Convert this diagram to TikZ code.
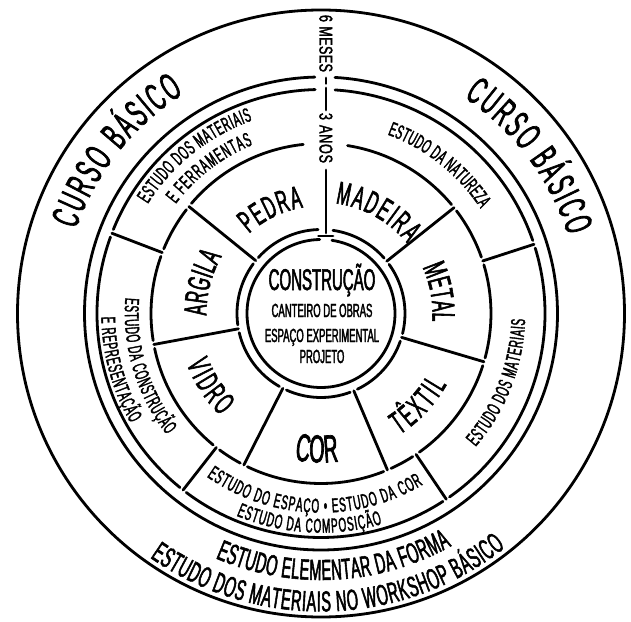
\documentclass[tikz,border=0pt]{standalone}
\usepackage{fontspec}
\setmainfont{Liberation Sans}[FakeStretch=0.5,FakeBold=1.8]
\newfontfamily\wfont{Liberation Sans}[FakeStretch=0.68,FakeBold=1.8]
\usetikzlibrary{decorations.text}
\newcommand\arctext[5]{%
  \path[decorate,decoration={text along path,text align={fit to path},
    text={|\fontsize{#1}{#1}\selectfont|#5}}]
    (#3:#2) arc[start angle=#3,end angle=#4,radius=#2];}
\newcommand\linetext[4]{%
  \path[decorate,decoration={text along path,text align={fit to path},
    text={|\wfont\fontsize{#1}{#1}\selectfont|#4}}] #2 -- #3;}
\begin{document}
\begin{tikzpicture}[x=1pt,y=1pt,
  ln/.style={line width=2.8pt,line cap=round},
  ctext/.style={anchor=base,inner sep=0pt}]
\fill[white] (-321,-307.5) rectangle (310,313.5);
\useasboundingbox (-321,-307.5) rectangle (310,313.5);

% circles and rings
\draw[ln] (0,0) circle[radius=303.5];
\draw[ln] (91.5:236.5) arc[start angle=91.5,end angle=446.6,radius=236.5];
\foreach \a/\b in {19.02/86.4,91.5/157.98,160.02/230.98,233.02/302.98,305.02/376.98}
  \draw[ln] (\a:224) arc[start angle=\a,end angle=\b,radius=224];
\foreach \a/\b in {19.35/37.15,39.85/81,96/139.65,142.35/157.65,160.35/189.15,191.85/230.65,233.35/241.65,244.35/291.65,294.35/302.65,305.35/342.15,344.85/376.65}
  \draw[ln] (\a:170) arc[start angle=\a,end angle=\b,radius=170];
\foreach \a/\b in {41.2/81.8,92/138.3,143.7/187.8,193.2/240.3,245.7/290.3,295.7/340.8,346.2/395.8}
  \draw[ln] (\a:84) arc[start angle=\a,end angle=\b,radius=84];
\draw[ln] (91:74) arc[start angle=91,end angle=441.5,radius=74];

% spokes
\foreach \a in {38.5,141,190.5,243,293,343.5}
  \draw[ln] (\a:84) -- (\a:170);
\foreach \a in {18,159,232,304}
  \draw[ln] (\a:170) -- (\a:224);

% vertical divider
\draw[ln] (5,235.5) -- (5,230);
\draw[ln] (5,225.5) -- (5,203.5);
\draw[ln] (5,143.5) -- (5,80.5);
\draw[ln] (-2.5,77.5) -- (12,77.5);
\linetext{18.5}{(-1.5,298.5)}{(-1.5,241.5)}{6 MESES}
\linetext{18.5}{(-1.5,200.5)}{(-1.5,150.5)}{3 ANOS}

% outer ring
\arctext{39}{259}{161}{122}{CURSO BÁSICO}
\arctext{39}{259}{56.5}{17.5}{CURSO BÁSICO}
\arctext{29}{266.5}{246.7}{299.3}{ESTUDO ELEMENTAR DA FORMA}
\arctext{29}{298}{235}{308.2}{ESTUDO DOS MATERIAIS NO WORKSHOP BÁSICO}

% study ring
\arctext{20}{204.9}{147.7}{109.6}{ESTUDO DOS MATERIAIS}
\arctext{20}{181.9}{143}{112}{E FERRAMENTAS}
\arctext{20}{190.9}{69.6}{33.3}{ESTUDO DA NATUREZA}
\arctext{20}{204.2}{-40.8}{-1.6}{ESTUDO DOS MATERIAIS}
\arctext{20}{196.2}{175.4}{218.2}{ESTUDO DA CONSTRUÇÃO}
\arctext{20}{219.7}{180.9}{210}{E REPRESENTAÇÃO}
\arctext{20}{199.2}{235}{300.8}{ESTUDO DO ESPAÇO • ESTUDO DA COR}
\arctext{20}{219.2}{247.3}{286.2}{ESTUDO DA COMPOSIÇÃO}

% materials ring
\arctext{32}{107.5}{132}{99.5}{PEDRA}
\arctext{32}{111}{82.5}{39.2}{MADEIRA}
\arctext{32}{111.5}{24.5}{-4}{METAL}
\arctext{32}{144.5}{-57}{-29.5}{TÊXTIL}
\arctext{39}{149}{259.8}{276.8}{COR}
\arctext{32}{143.5}{200.5}{225.5}{VIDRO}
\arctext{32}{114.5}{181}{150}{ARGILA}

% centre
\node[ctext,font=\fontsize{30}{30}\selectfont] (constr) at (1,23.5) {CONSTRUÇÃO};
\node[ctext,font=\fontsize{19}{19}\selectfont] (canteiro) at (1,-3.5) {CANTEIRO DE OBRAS};
\node[ctext,font=\fontsize{19}{19}\selectfont] (espaco) at (1,-28.5) {ESPAÇO EXPERIMENTAL};
\node[ctext,font=\fontsize{19}{19}\selectfont] (projeto) at (1,-49.5) {PROJETO};
\end{tikzpicture}
\end{document}
